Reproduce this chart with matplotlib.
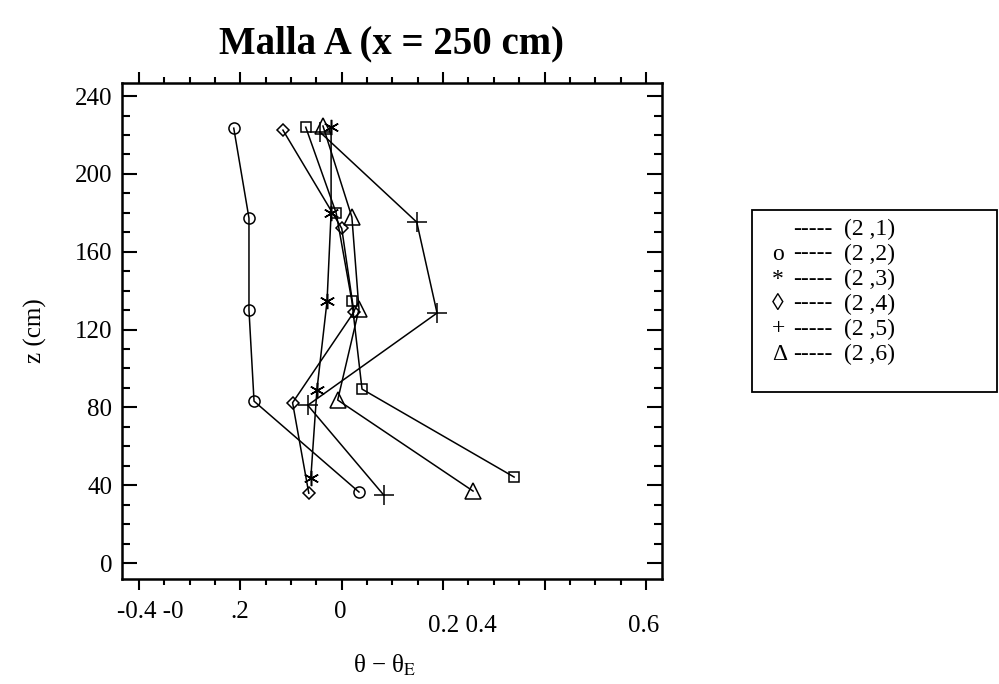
import matplotlib
matplotlib.use("Agg")
import matplotlib.pyplot as plt
from matplotlib.ticker import MultipleLocator, NullFormatter
from matplotlib.patches import Rectangle

plt.rcParams['font.family'] = ['Liberation Serif', 'DejaVu Serif']
plt.rcParams['mathtext.fontset'] = 'stix'

# theta - theta_E at each probe, z in cm
z_21 = [224.0, 179.9, 134.6, 89.4, 44.2]
d_21 = [-0.071, -0.011, 0.020, 0.040, 0.340]

z_22 = [223.5, 177.3, 130.0, 83.2, 36.5]
d_22 = [-0.213, -0.183, -0.183, -0.173, 0.034]

z_23 = [224.0, 179.9, 134.6, 88.9, 43.7]
d_23 = [-0.021, -0.021, -0.029, -0.049, -0.061]

z_24 = [222.5, 172.0, 129.0, 82.4, 35.9]
d_24 = [-0.116, 0.000, 0.024, -0.097, -0.065]

z_25 = [221.5, 175.2, 128.5, 81.1, 34.9]
d_25 = [-0.043, 0.148, 0.188, -0.067, 0.083]

z_26 = [224.6, 177.8, 130.5, 83.8, 37.0]
d_26 = [-0.037, 0.020, 0.034, -0.008, 0.259]

tick_text = ["-0.4 -0", ".2", "0", "0.2 0.4", "0.6"]
tick_text_x = [-0.378, -0.201, -0.002, 0.237, 0.596]
tick_text_low = [False, False, False, True, True]

legend_rows = [("", "(2 ,1)"), ("o", "(2 ,2)"), ("*", "(2 ,3)"),
               ("\u25ca", "(2 ,4)"), ("+", "(2 ,5)"), ("\u0394", "(2 ,6)")]

fig = plt.figure(figsize=(9.99, 6.84), dpi=100)
ax = fig.add_axes([0.1221, 0.1535, 0.5405, 0.7251])

kw = dict(color='black', lw=1.1, mfc='none', mec='black', mew=1.1)
ax.plot(d_21, z_21, marker='s', ms=7.5, **kw)
ax.plot(d_22, z_22, marker='o', ms=8, **kw)
ax.plot(d_23, z_23, marker=(6, 2, 0), ms=11, **kw)
ax.plot(d_24, z_24, marker='D', ms=6, **kw)
ax.plot(d_25, z_25, marker='+', ms=14, **kw)
ax.plot(d_26, z_26, marker='^', ms=12, **kw)

ax.set_xlim(-0.4335, 0.6316)
ax.set_ylim(-8.2, 246.7)

ax.xaxis.set_major_locator(MultipleLocator(0.2))
ax.xaxis.set_minor_locator(MultipleLocator(0.05))
ax.yaxis.set_major_locator(MultipleLocator(40))
ax.yaxis.set_minor_locator(MultipleLocator(10))
ax.xaxis.set_major_formatter(NullFormatter())

ax.tick_params(axis='x', which='both', direction='out', top=True, bottom=True, width=1.5)
ax.tick_params(axis='x', which='major', length=8)
ax.tick_params(axis='x', which='minor', length=4)
ax.tick_params(axis='y', which='both', direction='in', left=True, right=True, width=1.5)
ax.tick_params(axis='y', which='major', length=11, labelsize=18, pad=7)
ax.tick_params(axis='y', which='minor', length=6)
for sp in ax.spines.values():
    sp.set_linewidth(1.8)

# tick text under the x axis
for txt, xv, low in zip(tick_text, tick_text_x, tick_text_low):
    ax.text(xv, -0.094 if low else -0.066, txt, transform=ax.get_xaxis_transform(),
            ha='center', va='center', fontsize=18)

ax.set_xlabel('\u03b8 \u2212 \u03b8$_\\mathrm{E}$', fontsize=18)
ax.xaxis.set_label_coords((385 - 122) / 540, -(665 - 579) / 496)
ax.xaxis.label.set_va('center')
ax.set_ylabel('z (cm)', fontsize=18)
ax.yaxis.set_label_coords(-(122 - 35) / 540, 0.5)
ax.yaxis.label.set_va('center')
ax.set_title('Malla A (x = 250 cm)', fontsize=28, fontweight='bold', pad=21)

# legend drawn as a text panel
fig.patches.append(Rectangle((752 / 999, 1 - 392 / 684), 245 / 999, 182 / 684,
                             transform=fig.transFigure, fill=False, lw=1.3, ec='black'))
for i, (sym, lab) in enumerate(legend_rows):
    y = 1 - (229 + 25 * i) / 684
    fig.text(772 / 999, y, sym, ha='left', va='center', fontsize=17)
    fig.text(793 / 999, y, "-----", ha='left', va='center', fontsize=17)
    fig.text(844 / 999, y, lab, ha='left', va='center', fontsize=17)

fig.savefig("out.png", dpi=100)
